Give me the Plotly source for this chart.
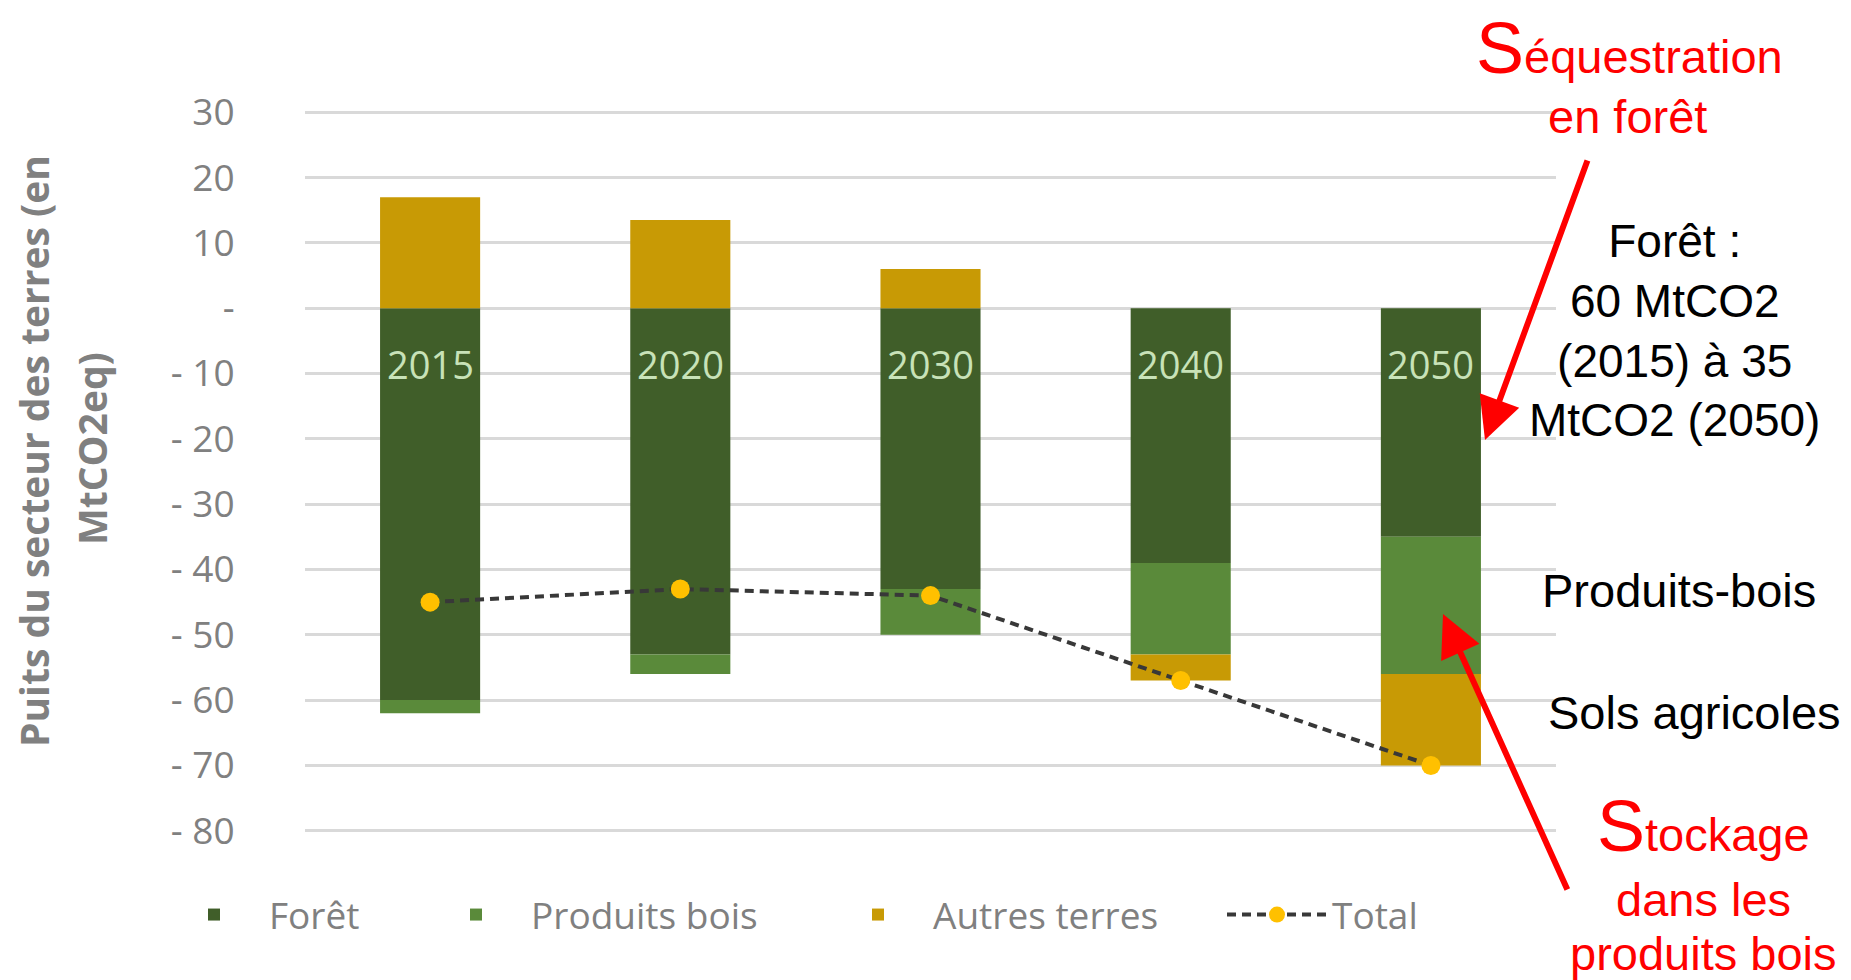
import plotly.graph_objects as go

# ---- data ----
years = ["2015", "2020", "2030", "2040", "2050"]
foret = [-60, -53, -43, -39, -35]
produits_bois = [-2, -3, -7, -14, -21]
autres_terres = [17, 13.5, 6, -4, -14]
total = [-45, -43, -44, -57, -70]

tick_vals = [30, 20, 10, 0, -10, -20, -30, -40, -50, -60, -70, -80]
tick_text = ["30", "20", "10", "-", "- 10", "- 20", "- 30", "- 40", "- 50", "- 60", "- 70", "- 80"]

# ---- layout geometry (pixels); page body has an 8px margin ----
OFF = 8
FIG_W, FIG_H = 1851 - OFF, 980 - OFF
L, T, W, H = 305 - OFF, 109 - OFF, 1251, 725


def px(x):
    return (x - OFF - L) / W


def py(y):
    return (T + H - (y - OFF)) / H


C_FORET = "#405E29"
C_PROD = "#5A8A3A"
C_AUTRES = "#C89A05"
C_TOTAL = "#FFC000"
GRAY = "#808080"

fig = go.Figure()
fig.add_trace(go.Bar(x=years, y=foret, name="Forêt", legend="legend",
                     marker=dict(color=C_FORET, line=dict(width=0))))
fig.add_trace(go.Bar(x=years, y=produits_bois, name="Produits bois", legend="legend2",
                     marker=dict(color=C_PROD, line=dict(width=0))))
fig.add_trace(go.Bar(x=years, y=autres_terres, name="Autres terres", legend="legend3",
                     marker=dict(color=C_AUTRES, line=dict(width=0))))
fig.add_trace(go.Scatter(
    x=years, y=total, name="Total", mode="lines+markers", legend="legend4",
    line=dict(color="#383838", width=4, dash="9px,6px"),
    marker=dict(color=C_TOTAL, size=19, line=dict(width=0)),
))

annotations = []
# year labels inside the bars
for i, yr in enumerate(years):
    annotations.append(dict(x=i, y=-8.5, xref="x", yref="y", text=yr, showarrow=False,
                            font=dict(family="Open Sans", size=38, color="#C8E2B8")))

# y-axis title (two lines, rotated)
annotations.append(dict(x=px(33), y=py(451), xref="paper", yref="paper", textangle=-90,
                        text="<b>Puits du secteur des terres (en</b>", showarrow=False,
                        xanchor="center", yanchor="middle",
                        font=dict(family="Open Sans", size=39, color=GRAY)))
annotations.append(dict(x=px(91), y=py(449), xref="paper", yref="paper", textangle=-90,
                        text="<b>MtCO2eq)</b>", showarrow=False,
                        xanchor="center", yanchor="middle",
                        font=dict(family="Open Sans", size=39, color=GRAY)))

RED = "#FF0000"
AF = "Liberation Sans"
FS = 47
# red titles
annotations.append(dict(x=px(1629), y=py(48), xref="paper", yref="paper",
                        text="<span style='font-size:72px'>S</span>équestration", showarrow=False,
                        xanchor="center", yanchor="middle", font=dict(family=AF, size=FS, color=RED)))
annotations.append(dict(x=px(1627), y=py(116), xref="paper", yref="paper",
                        text="en forêt", showarrow=False,
                        xanchor="center", yanchor="middle", font=dict(family=AF, size=FS, color=RED)))
annotations.append(dict(x=px(1703), y=py(826), xref="paper", yref="paper",
                        text="<span style='font-size:72px'>S</span>tockage", showarrow=False,
                        xanchor="center", yanchor="middle", font=dict(family=AF, size=FS, color=RED)))
annotations.append(dict(x=px(1703), y=py(899), xref="paper", yref="paper",
                        text="dans les", showarrow=False,
                        xanchor="center", yanchor="middle", font=dict(family=AF, size=FS, color=RED)))
annotations.append(dict(x=px(1703), y=py(953), xref="paper", yref="paper",
                        text="produits bois", showarrow=False,
                        xanchor="center", yanchor="middle", font=dict(family=AF, size=FS, color=RED)))

# black notes
annotations.append(dict(x=px(1674), y=py(330), xref="paper", yref="paper",
                        text="Forêt :<br>60 MtCO2<br>(2015) à 35<br>MtCO2 (2050)", showarrow=False,
                        xanchor="center", yanchor="middle", align="center",
                        font=dict(family=AF, size=46, color="#000000")))
annotations.append(dict(x=px(1679), y=py(590), xref="paper", yref="paper",
                        text="Produits-bois", showarrow=False,
                        xanchor="center", yanchor="middle", font=dict(family=AF, size=FS, color="#000000")))
annotations.append(dict(x=px(1694), y=py(712), xref="paper", yref="paper",
                        text="Sols agricoles", showarrow=False,
                        xanchor="center", yanchor="middle", font=dict(family=AF, size=FS, color="#000000")))

# red arrows
annotations.append(dict(x=px(1485), y=py(440), xref="paper", yref="paper", text="",
                        showarrow=True, ax=103, ay=-281, arrowcolor=RED, arrowwidth=6,
                        arrowhead=2, arrowsize=1.4))
annotations.append(dict(x=px(1443), y=py(614), xref="paper", yref="paper", text="",
                        showarrow=True, ax=125, ay=277, arrowcolor=RED, arrowwidth=6,
                        arrowhead=2, arrowsize=1.4))


def legend_at(left):
    return dict(orientation="h", x=px(left), y=py(915), xanchor="left", yanchor="middle",
                font=dict(family="Open Sans", size=37, color=GRAY), itemwidth=100,
                bgcolor="rgba(0,0,0,0)")


fig.update_layout(
    width=FIG_W, height=FIG_H,
    margin=dict(l=L, r=FIG_W - L - W, t=T, b=FIG_H - T - H, autoexpand=False),
    barmode="relative", bargap=0.6,
    paper_bgcolor="white", plot_bgcolor="white",
    showlegend=True,
    legend=legend_at(159),
    legend2=legend_at(421),
    legend3=legend_at(823),
    legend4=legend_at(1222),
    annotations=annotations,
    xaxis=dict(type="category", range=[-0.5, 4.5], showticklabels=False, showgrid=False,
               zeroline=False, showline=False, ticks=""),
    yaxis=dict(range=[-80.5, 30.5], tickvals=tick_vals, ticktext=tick_text,
               showgrid=True, gridcolor="#D9D9D9", gridwidth=3,
               zeroline=False, showline=False,
               ticks="outside", ticklen=62, tickcolor="rgba(0,0,0,0)",
               tickfont=dict(family="Open Sans", size=37, color=GRAY)),
)

fig.write_html("out.html")
